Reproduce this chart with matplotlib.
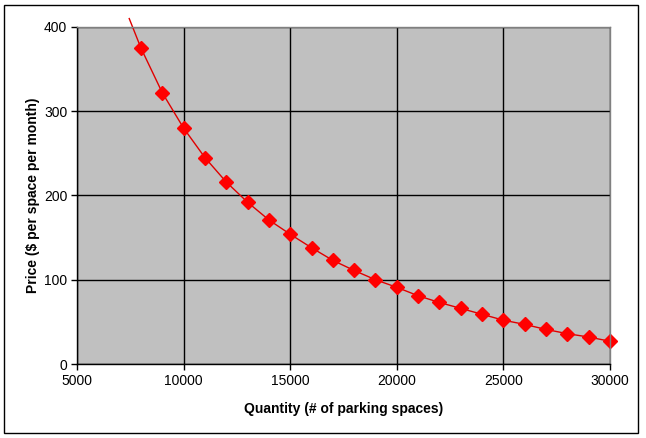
import matplotlib
matplotlib.use("Agg")
import matplotlib.pyplot as plt
from matplotlib.patches import Rectangle
from matplotlib.transforms import Bbox, TransformedBbox
import numpy as np

plt.rcParams['font.family'] = ['Liberation Sans', 'DejaVu Sans']

# quantity of parking spaces and price per space per month
quantity = [8000, 9000, 10000, 11000, 12000, 13000, 14000, 15000, 16000, 17000,
            18000, 19000, 20000, 21000, 22000, 23000, 24000, 25000, 26000, 27000,
            28000, 29000, 30000]
price = [375, 322, 280, 245, 216, 192, 171, 154, 138, 123,
         111, 100, 91, 81, 73, 66, 59, 52, 47, 41,
         36, 32, 27]
# the curve starts just above the top of the plot area
lead_q = [7450]
lead_p = [410]

xticks = [5000, 10000, 15000, 20000, 25000, 30000]
yticks = [0, 100, 200, 300, 400]

fig = plt.figure(figsize=(6.46, 4.38), dpi=100)
fig.patch.set_facecolor('white')
# chart border
fig.patches.append(Rectangle((4/646, 5/438), 634/646, 428/438, transform=fig.transFigure,
                             fill=False, edgecolor='black', lw=1.0))

ax = fig.add_axes([77/646, 1 - 364/438, (610 - 77)/646, (364 - 27)/438])
ax.set_facecolor('#c0c0c0')
ax.set_xlim(5000, 30000)
ax.set_ylim(0, 400)
ax.set_xticks(xticks)
ax.set_yticks(yticks)
ax.grid(True, color='black', lw=1.0)
ax.set_axisbelow(True)

for side in ['top', 'right']:
    ax.spines[side].set_color('#808080')
    ax.spines[side].set_linewidth(1.0)
for side in ['left', 'bottom']:
    ax.spines[side].set_color('black')
    ax.spines[side].set_linewidth(1.0)

ax.tick_params(direction='out', length=4, width=1, labelsize=10, pad=3)

curve, = ax.plot(lead_q + quantity, lead_p + price, '-', color='#e00000', lw=1.0)
curve.set_clip_box(TransformedBbox(Bbox([[0, 0], [1, 1.03]]), ax.transAxes))
ax.plot(quantity, price, 'D', color='#ff0000', ms=7, mec='#ff0000', clip_on=False)

ax.set_xlabel('Quantity (# of parking spaces)', fontsize=10, fontweight='bold', labelpad=10)
ax.set_ylabel('Price ($ per space per month)', fontsize=10, fontweight='bold', labelpad=3)

fig.savefig('out.png', dpi=100)
